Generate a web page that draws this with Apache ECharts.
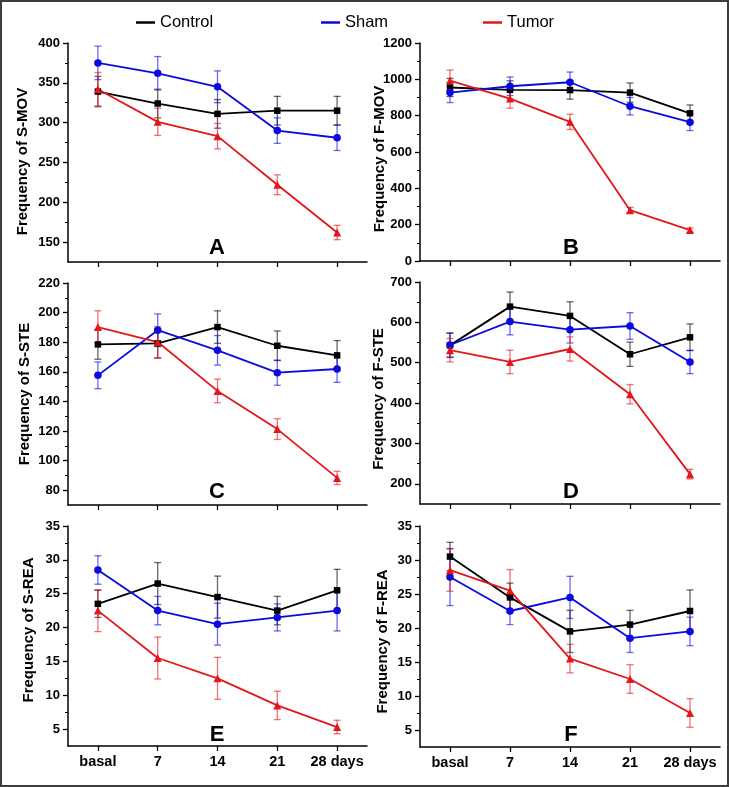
<!DOCTYPE html>
<html><head><meta charset="utf-8">
<script src="https://cdn.jsdelivr.net/npm/echarts@6/dist/echarts.min.js"></script>
<style>html,body{margin:0;padding:0;background:#fff}#c{width:729px;height:787px}</style>
</head><body><div id="c"></div>
<script>
// ---------------- DATA ----------------
const days = ['basal', '7', '14', '21', '28 days'];
const groups = ['Control', 'Sham', 'Tumor'];

// Panel A: S-MOV
const sMovControl = [339, 324, 311, 315, 315];
const sMovControlErr = [19, 18, 18, 18, 18];
const sMovSham = [375, 362, 345, 290, 281];
const sMovShamErr = [21, 21, 20, 16, 16];
const sMovTumor = [342, 301, 283, 222, 162];
const sMovTumorErr = [21, 17, 16, 12.5, 9];
const sMovTicks = [150, 200, 250, 300, 350, 400];
const sMovMinor = [175, 225, 275, 325, 375];

// Panel B: F-MOV
const fMovControl = [955, 942, 941, 927, 813];
const fMovControlErr = [50, 50, 50, 53, 46];
const fMovSham = [927, 962, 984, 852, 764];
const fMovShamErr = [55, 51, 56, 48, 46];
const fMovTumor = [993, 894, 766, 280, 170];
const fMovTumorErr = [58, 53, 42, 15, 12];
const fMovTicks = [0, 200, 400, 600, 800, 1000, 1200];
const fMovMinor = [100, 300, 500, 700, 900, 1100];

// Panel C: S-STE
const sSteControl = [178.5, 179.2, 190.2, 177.6, 171.1];
const sSteControlErr = [10, 10, 11, 10, 10];
const sSteSham = [157.6, 188.1, 174.5, 159.4, 161.9];
const sSteShamErr = [9, 11, 10, 8.5, 9];
const sSteTumor = [190.2, 180.1, 147.1, 121.3, 88.3];
const sSteTumorErr = [11, 10.5, 8, 7, 4.5];
const sSteTicks = [80, 100, 120, 140, 160, 180, 200, 220];
const sSteMinor = [90, 110, 130, 150, 170, 190, 210];

// Panel D: F-STE
const fSteControl = [543, 639, 616, 521, 563];
const fSteControlErr = [30, 36, 35, 30, 33];
const fSteSham = [544, 602, 582, 591, 502];
const fSteShamErr = [30, 33, 33, 33, 29];
const fSteTumor = [531, 502, 534, 422, 224];
const fSteTumorErr = [29, 29, 30, 24, 12];
const fSteTicks = [200, 300, 400, 500, 600, 700];
const fSteMinor = [250, 350, 450, 550, 650];

// Panel E: S-REA
const sReaControl = [23.5, 26.5, 24.5, 22.5, 25.5];
const sReaControlErr = [2, 3.1, 3.1, 2.1, 3.1];
const sReaSham = [28.5, 22.5, 20.5, 21.5, 22.5];
const sReaShamErr = [2.1, 2.1, 3.1, 2, 3];
const sReaTumor = [22.5, 15.5, 12.5, 8.5, 5.3];
const sReaTumorErr = [3.1, 3.1, 3.1, 2.1, 1];
const reaTicks = [5, 10, 15, 20, 25, 30, 35];
const reaMinor = [7.5, 12.5, 17.5, 22.5, 27.5, 32.5];

// Panel F: F-REA
const fReaControl = [30.5, 24.5, 19.5, 20.5, 22.5];
const fReaControlErr = [2.1, 2.1, 3.1, 2.1, 3.1];
const fReaSham = [27.5, 22.5, 24.5, 18.5, 19.5];
const fReaShamErr = [4.2, 2, 3.1, 2.1, 2.1];
const fReaTumor = [28.5, 25.5, 15.5, 12.5, 7.5];
const fReaTumorErr = [3.1, 3.1, 2.1, 2.1, 2.1];

// ---------------- LAYOUT ----------------
const FONT = 'Arial, "Liberation Sans", Helvetica, sans-serif';
const colors = { Control: '#000000', Sham: '#0a0ae0', Tumor: '#e3161b' };
const symbols = { Control: 'rect', Sham: 'circle', Tumor: 'triangle' };
const symSizes = { Control: 6.5, Sham: 7.5, Tumor: 8 };

const panels = [
  { name: 'Frequency of S-MOV', letter: 'A', grid: { left: 68, top: 43, width: 299, height: 219 }, min: 125, max: 400, nameGap: 38, namePad: [0, 18, 0, 0],
    ticks: sMovTicks, minor: sMovMinor, vals: [sMovControl, sMovSham, sMovTumor], errs: [sMovControlErr, sMovShamErr, sMovTumorErr], letterPos: [217, 248], labels: false },
  { name: 'Frequency of F-MOV', letter: 'B', grid: { left: 420, top: 43, width: 300, height: 218 }, min: 0, max: 1200, nameGap: 33, namePad: [0, 14, 0, 0],
    ticks: fMovTicks, minor: fMovMinor, vals: [fMovControl, fMovSham, fMovTumor], errs: [fMovControlErr, fMovShamErr, fMovTumorErr], letterPos: [571, 248], labels: false },
  { name: 'Frequency of S-STE', letter: 'C', grid: { left: 68, top: 283, width: 299, height: 222 }, min: 70, max: 220, nameGap: 36, namePad: [0, 0, 0, 0],
    ticks: sSteTicks, minor: sSteMinor, vals: [sSteControl, sSteSham, sSteTumor], errs: [sSteControlErr, sSteShamErr, sSteTumorErr], letterPos: [217, 492], labels: false },
  { name: 'Frequency of F-STE', letter: 'D', grid: { left: 420, top: 282, width: 300, height: 222 }, min: 150, max: 700, nameGap: 34, namePad: [0, 12, 0, 0],
    ticks: fSteTicks, minor: fSteMinor, vals: [fSteControl, fSteSham, fSteTumor], errs: [fSteControlErr, fSteShamErr, fSteTumorErr], letterPos: [571, 492], labels: false },
  { name: 'Frequency of S-REA', letter: 'E', grid: { left: 68, top: 526, width: 299, height: 220 }, min: 2.5, max: 35, nameGap: 32, namePad: [0, 0, 0, 12],
    ticks: reaTicks, minor: reaMinor, vals: [sReaControl, sReaSham, sReaTumor], errs: [sReaControlErr, sReaShamErr, sReaTumorErr], letterPos: [217, 735], labels: true },
  { name: 'Frequency of F-REA', letter: 'F', grid: { left: 420, top: 526, width: 300, height: 221 }, min: 2.5, max: 35, nameGap: 30, namePad: [0, 10, 0, 0],
    ticks: reaTicks, minor: reaMinor, vals: [fReaControl, fReaSham, fReaTumor], errs: [fReaControlErr, fReaShamErr, fReaTumorErr], letterPos: [571, 735], labels: true }
];

function errRender(params, api) {
  const x = api.value(0), lo = api.value(1), hi = api.value(2);
  const p1 = api.coord([x, hi]);
  const p2 = api.coord([x, lo]);
  const w = 3.5;
  const style = { stroke: api.visual('color'), lineWidth: 1.3, opacity: 0.6 };
  return {
    type: 'group',
    children: [
      { type: 'line', shape: { x1: p1[0], y1: p1[1], x2: p2[0], y2: p2[1] }, style: style },
      { type: 'line', shape: { x1: p1[0] - w, y1: p1[1], x2: p1[0] + w, y2: p1[1] }, style: style },
      { type: 'line', shape: { x1: p2[0] - w, y1: p2[1], x2: p2[0] + w, y2: p2[1] }, style: style }
    ]
  };
}

const grids = [], xAxes = [], yAxes = [], series = [], graphics = [];
panels.forEach((p, i) => {
  grids.push(Object.assign({ containLabel: false }, p.grid));
  xAxes.push({
    type: 'category', gridIndex: i, data: days, boundaryGap: true,
    axisLine: { lineStyle: { color: '#000', width: 1.5 } },
    axisTick: { show: true, alignWithLabel: true, interval: 0, length: 5, lineStyle: { color: '#000', width: 1.3 } },
    axisLabel: { show: p.labels, interval: 0, margin: 8, color: '#000', fontSize: 14.5, fontWeight: 'bold', fontFamily: FONT },
    splitLine: { show: false }
  });
  // main y axis
  yAxes.push({
    type: 'value', gridIndex: i, min: p.min, max: p.max,
    name: p.name, nameLocation: 'middle', nameGap: p.nameGap, nameRotate: 90, nameMoveOverlap: false,
    nameTextStyle: { color: '#000', fontSize: 15, fontWeight: 'bold', fontFamily: FONT, padding: p.namePad },
    axisLine: { show: true, lineStyle: { color: '#000', width: 1.5 } },
    axisTick: { show: true, length: 5, customValues: p.ticks, lineStyle: { color: '#000', width: 1.3 } },
    axisLabel: { show: true, margin: 8, customValues: p.ticks, formatter: v => String(v),
      color: '#000', fontSize: 13, fontWeight: 'bold', fontFamily: FONT },
    splitLine: { show: false }
  });
  // minor-tick overlay axis
  yAxes.push({
    type: 'value', gridIndex: i, min: p.min, max: p.max, position: 'left',
    axisLine: { show: false },
    axisTick: { show: true, length: 3, customValues: p.minor, lineStyle: { color: '#000', width: 1 } },
    axisLabel: { show: false },
    splitLine: { show: false }
  });
  groups.forEach((g, k) => {
    series.push({
      name: g, type: 'line', xAxisIndex: i, yAxisIndex: 2 * i,
      data: p.vals[k], symbol: symbols[g], symbolSize: symSizes[g], z: 3,
      lineStyle: { color: colors[g], width: 1.8 },
      itemStyle: { color: colors[g] },
      emphasis: { disabled: true }, animation: false
    });
  });
  groups.forEach((g, k) => {
    const d = p.vals[k].map((v, j) => [j, v - p.errs[k][j], v + p.errs[k][j]]);
    series.push({
      name: g, type: 'custom', xAxisIndex: i, yAxisIndex: 2 * i,
      data: d, encode: { x: 0, y: [1, 2] }, renderItem: errRender, z: 2,
      itemStyle: { color: colors[g] }, animation: false, clip: false
    });
  });
  graphics.push({
    type: 'text', x: p.letterPos[0], y: p.letterPos[1],
    style: { text: p.letter, font: 'bold 22px ' + FONT, fill: '#000', textAlign: 'center', textVerticalAlign: 'middle' }
  });
});

// outer frame
graphics.push({ type: 'rect', shape: { x: 1, y: 1, width: 727, height: 785 }, style: { fill: 'none', stroke: '#3c3c3c', lineWidth: 2 }, z: 100 });

const legendBase = { top: 9, icon: 'rect', itemWidth: 19, itemHeight: 2.5, itemGap: 0,
  textStyle: { color: '#000', fontSize: 16.5, fontFamily: FONT }, selectedMode: true };
const legends = [
  Object.assign({}, legendBase, { data: ['Control'], left: 131 }),
  Object.assign({}, legendBase, { data: ['Sham'], left: 316 }),
  Object.assign({}, legendBase, { data: ['Tumor'], left: 478 })
];

const chart = echarts.init(document.getElementById('c'), null, { renderer: 'canvas' });
chart.setOption({
  backgroundColor: '#fff',
  animation: false,
  legend: legends,
  grid: grids,
  xAxis: xAxes,
  yAxis: yAxes,
  series: series,
  graphic: graphics
});
</script>
</body></html>
